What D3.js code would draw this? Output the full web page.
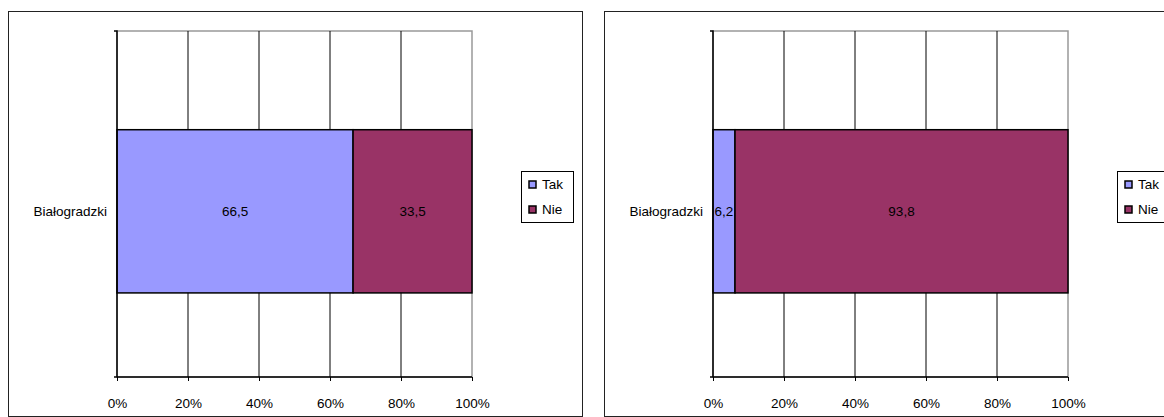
<!DOCTYPE html>
<html>
<head>
<meta charset="utf-8">
<script src="https://cdn.jsdelivr.net/npm/d3@7"></script>
<style>
    body { margin: 0; background: #fff; }
    svg { display: block; }
    text { font-family: "Liberation Sans", Arial, sans-serif; fill: #000; }
</style>
</head>
<body>
<div id="chartdiv"></div>
<script>
// values
var categories = ["Białogradzki"];
var seriesNames = ["Tak", "Nie"];
var seriesColors = ["#9999FF", "#993366"];
var leftValues = [66.5, 33.5];
var rightValues = [6.2, 93.8];
var tickValues = [0, 20, 40, 60, 80, 100];

(function () {
    "use strict";

    var W = 1164, H = 417,
        panelW = 574, panelH = 405,
        plot = {left: 109, top: 20, width: 355, height: 346},
        fontSize = 13.5;

    var svg = d3.select("#chartdiv").append("svg")
        .attr("width", W).attr("height", H);

    function fmt (v) {
        return d3.format(".1f")(v).replace(".", ",");
    }

    function drawPanel (ox, values) {
        var g = svg.append("g").attr("transform", "translate(" + ox + ",11)"),
            x = d3.scaleLinear().domain([0, 100]).range([0, plot.width]),
            y = d3.scaleBand().domain(categories).range([0, plot.height])
                .paddingInner(0).paddingOuter(0.56).align(0.54),
            pg, stack, leg;

        //outer chart border
        g.append("rect")
            .attr("x", 0.5).attr("y", 0.5)
            .attr("width", panelW).attr("height", panelH)
            .style("fill", "white").style("stroke", "#222")
            .style("stroke-width", 1);

        pg = g.append("g")
            .attr("transform", "translate(" + plot.left + "," + plot.top + ")");

        //plot area frame (grey top/right)
        pg.append("rect")
            .attr("x", 0).attr("y", 0)
            .attr("width", plot.width).attr("height", plot.height)
            .style("fill", "none").style("stroke", "#999")
            .style("stroke-width", 1.5);

        //vertical gridlines
        pg.selectAll("line.grid")
            .data(tickValues.filter(function (t) { return t > 0 && t < 100; }))
            .enter().append("line")
            .attr("class", "grid")
            .attr("x1", function (d) { return x(d); })
            .attr("x2", function (d) { return x(d); })
            .attr("y1", 0).attr("y2", plot.height)
            .style("stroke", "#000").style("stroke-width", 1);

        //stacked bar segments
        stack = [];
        values.reduce(function (acc, v, i) {
            stack.push({x0: acc, x1: acc + v, v: v, i: i});
            return acc + v; }, 0);

        pg.selectAll("rect.seg")
            .data(stack)
            .enter().append("rect")
            .attr("class", "seg")
            .attr("x", function (d) { return x(d.x0); })
            .attr("width", function (d) { return x(d.x1) - x(d.x0); })
            .attr("y", y(categories[0]))
            .attr("height", y.bandwidth())
            .style("fill", function (d) { return seriesColors[d.i]; })
            .style("stroke", "#000").style("stroke-width", 1.5);

        pg.selectAll("text.lab")
            .data(stack)
            .enter().append("text")
            .attr("class", "lab")
            .attr("x", function (d) { return x((d.x0 + d.x1) / 2); })
            .attr("y", y(categories[0]) + y.bandwidth() / 2)
            .attr("dy", "0.35em")
            .attr("text-anchor", "middle")
            .style("font-size", fontSize + "px")
            .text(function (d) { return fmt(d.v); });

        //x axis
        pg.append("g")
            .attr("transform", "translate(0," + plot.height + ")")
            .call(d3.axisBottom(x).tickValues(tickValues)
                .tickSize(4).tickPadding(17)
                .tickFormat(function (d) { return d + "%"; }))
            .call(function (a) {
                a.select(".domain").attr("d", "M0,0H" + plot.width)
                    .style("stroke", "#000").style("stroke-width", 1.5);
                a.selectAll("text").style("font-size", fontSize + "px")
                    .style("font-family", "Liberation Sans, Arial, sans-serif");
            });

        //y axis
        pg.append("g")
            .call(d3.axisLeft(y).tickSize(0).tickPadding(10))
            .call(function (a) {
                a.select(".domain").attr("d", "M-3,0H0V" + plot.height + "H-3")
                    .style("stroke", "#000").style("stroke-width", 1.5);
                a.selectAll("text").style("font-size", fontSize + "px")
                    .style("font-family", "Liberation Sans, Arial, sans-serif");
            });

        //legend
        leg = g.append("g").attr("transform", "translate(513,160)");
        leg.append("rect")
            .attr("x", 0.5).attr("y", 0.5)
            .attr("width", 52).attr("height", 51)
            .style("fill", "white").style("stroke", "#000");
        seriesNames.forEach(function (name, i) {
            leg.append("rect")
                .attr("x", 8).attr("y", 10 + i * 25)
                .attr("width", 7).attr("height", 7)
                .style("fill", seriesColors[i]).style("stroke", "#000")
                .style("stroke-width", 1.5);
            leg.append("text")
                .attr("x", 21).attr("y", 13.5 + i * 25)
                .attr("dy", "0.35em")
                .style("font-size", fontSize + "px")
                .text(name);
        });
    }

    drawPanel(8, leftValues);
    drawPanel(604, rightValues);
}());
</script>
</body>
</html>
